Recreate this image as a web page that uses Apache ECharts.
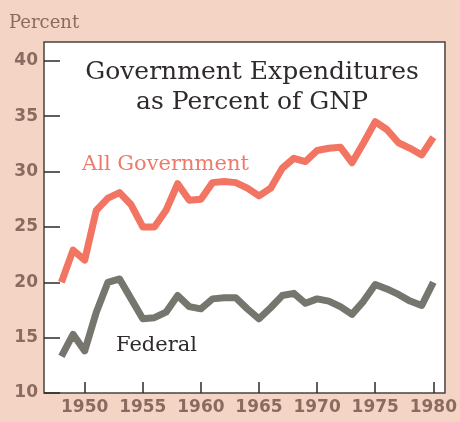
<!DOCTYPE html>
<html>
<head>
<meta charset="utf-8">
<script src="https://cdn.jsdelivr.net/npm/echarts@6/dist/echarts.min.js"></script>
<style>
html,body{margin:0;padding:0;background:#f4d5c5;}
#c{width:460px;height:422px;}
</style>
</head>
<body>
<div id="c"></div>
<script>
var years = [1948,1949,1950,1951,1952,1953,1954,1955,1956,1957,1958,1959,1960,1961,1962,1963,1964,1965,1966,1967,1968,1969,1970,1971,1972,1973,1974,1975,1976,1977,1978,1979,1980];
var allGovernment = [20.0,22.9,22.0,26.5,27.6,28.1,27.0,25.0,25.0,26.5,28.9,27.4,27.5,29.0,29.1,29.0,28.5,27.8,28.5,30.3,31.2,30.9,31.9,32.1,32.2,30.8,32.6,34.5,33.8,32.6,32.1,31.5,33.1];
var federal = [13.3,15.3,13.8,17.3,20.0,20.3,18.5,16.7,16.8,17.3,18.8,17.8,17.6,18.5,18.6,18.6,17.6,16.7,17.7,18.8,19.0,18.1,18.5,18.3,17.8,17.1,18.3,19.8,19.4,18.9,18.3,17.9,20.0];
var xTicks = [1950,1955,1960,1965,1970,1975,1980];
var yTicks = [10,15,20,25,30,35,40];

function pairs(vals){ return years.map(function(y,i){ return [y, vals[i]]; }); }

var chart = echarts.init(document.getElementById('c'), null, {renderer:'canvas'});
var labelColor = '#8b6b60';
chart.setOption({
  backgroundColor: '#f4d5c5',
  animation: false,
  grid: {
    left: 44, right: 15, top: 42, bottom: 29,
    show: true, backgroundColor: '#ffffff', borderColor: '#4a4240', borderWidth: 1.5
  },
  title: [
    {text: 'Percent', left: 4, top: 9, textStyle: {fontFamily: 'DejaVu Serif', fontSize: 18, fontWeight: 'normal', color: labelColor}},
    {text: 'Government Expenditures', left: 247, top: 55, textAlign: 'center', textStyle: {fontFamily: 'DejaVu Serif', fontSize: 25, fontWeight: 'normal', color: '#2e2b2a'}},
    {text: 'as Percent of GNP', left: 247, top: 85, textAlign: 'center', textStyle: {fontFamily: 'DejaVu Serif', fontSize: 25, fontWeight: 'normal', color: '#2e2b2a'}},
    {text: 'All Government', left: 77, top: 149, textStyle: {fontFamily: 'DejaVu Serif', fontSize: 21, fontWeight: 'normal', color: '#ee7a6c'}},
    {text: 'Federal', left: 111, top: 330, textStyle: {fontFamily: 'DejaVu Serif', fontSize: 21, fontWeight: 'normal', color: '#2e2b2a'}}
  ],
  xAxis: {
    type: 'value', min: 1946.5, max: 1981,
    axisLine: {show: false},
    splitLine: {show: false},
    axisTick: {show: true, inside: true, length: 11, customValues: xTicks, lineStyle: {color: '#2e2b2a', width: 1.5}},
    axisLabel: {customValues: xTicks, formatter: function(v){ return String(v); }, color: labelColor, fontFamily: 'DejaVu Sans', fontSize: 17, fontWeight: 'bold', margin: 6}
  },
  yAxis: {
    type: 'value', min: 10, max: 41.7,
    axisLine: {show: false},
    splitLine: {show: false},
    axisTick: {show: true, inside: true, length: 16, customValues: yTicks, lineStyle: {color: '#2e2b2a', width: 1.5}},
    axisLabel: {customValues: yTicks, color: labelColor, fontFamily: 'DejaVu Sans', fontSize: 17, fontWeight: 'bold', margin: 6}
  },
  series: [
    {type: 'line', name: 'All Government', data: pairs(allGovernment), symbol: 'none', lineStyle: {color: '#f27462', width: 7, join: 'round'}},
    {type: 'line', name: 'Federal', data: pairs(federal), symbol: 'none', lineStyle: {color: '#76766f', width: 7, join: 'round'}}
  ]
});
</script>
</body>
</html>
